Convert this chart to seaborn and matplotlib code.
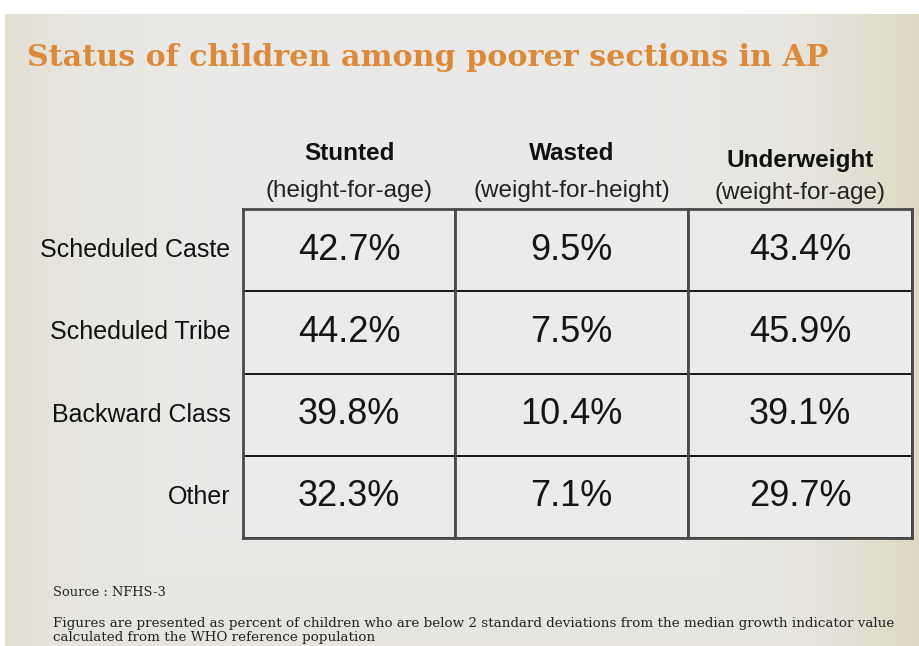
import numpy as np
import pandas as pd
import matplotlib
matplotlib.use('Agg')
import matplotlib.pyplot as plt
import seaborn as sns
from matplotlib.colors import ListedColormap

# data
groups = ['Scheduled Caste', 'Scheduled Tribe', 'Backward Class', 'Other']
measures = ['Stunted', 'Wasted', 'Underweight']
subtitles = ['(height-for-age)', '(weight-for-height)', '(weight-for-age)']
stunted = [42.7, 44.2, 39.8, 32.3]
wasted = [9.5, 7.5, 10.4, 7.1]
underweight = [43.4, 45.9, 39.1, 29.7]

df = pd.DataFrame({'Stunted': stunted, 'Wasted': wasted, 'Underweight': underweight},
                  index=groups)

sns.set_theme(style='white')
plt.rcParams['font.family'] = ['Liberation Sans', 'DejaVu Sans']
serif = ['DejaVu Serif', 'Liberation Serif']

W, H = 919, 646
fig = plt.figure(figsize=(W / 100, H / 100), dpi=100)

# slide background: light grey, beige toward the left/right edges, white strip on top
bg = fig.add_axes([0, 0, 1, 1])
yy, xx = np.mgrid[0:H, 0:W]
dx = np.abs(xx - W * 0.47) / (W * 0.53)
dy = np.abs(yy - H * 0.45) / (H * 0.55)
d = np.clip(np.maximum(dx, dy * 0.75), 0, 1) ** 4
c_in = np.array([234, 234, 233]) / 255
c_out = np.array([221, 217, 195]) / 255
img = c_in[None, None, :] * (1 - d[..., None]) + c_out[None, None, :] * d[..., None]
img[:14, :, :] = 1.0
img[:, :5, :] = 1.0
bg.imshow(img, aspect='auto', extent=[0, W, H, 0])
bg.set_xlim(0, W)
bg.set_ylim(H, 0)
bg.axis('off')

# table: one uniform heatmap per column (columns have different widths)
col_edges = [243, 455, 688, 912]
top, bottom = 209, 538
head_y = [153, 153, 160]
sub_y = [191, 191, 193]
for i, m in enumerate(measures):
    x0, x1 = col_edges[i], col_edges[i + 1]
    ax = fig.add_axes([x0 / W, 1 - bottom / H, (x1 - x0) / W, (bottom - top) / H])
    col = df[[m]]
    labels = col.map(lambda v: f'{v:.1f}%')
    sns.heatmap(col, ax=ax, cmap=ListedColormap(['#ebebeb']), cbar=False,
                annot=labels, fmt='', annot_kws={'fontsize': 26, 'color': '#151515'},
                linewidths=1.1, linecolor='#1a1a1a')
    for sp in ax.spines.values():
        sp.set_visible(True)
        sp.set_color('#4a4a4a')
        sp.set_linewidth(2.0)
    ax.set_xticks([])
    ax.set_xlabel('')
    ax.set_ylabel('')
    if i == 0:
        ax.tick_params(axis='y', length=0, pad=9)
        ax.set_yticklabels(groups, rotation=0, fontsize=18, color='#111111')
    else:
        ax.set_yticks([])

    cx = (x0 + x1) / 2 / W
    fig.text(cx, 1 - head_y[i] / H, m, ha='center', va='center',
             fontsize=17.5, fontweight='bold', color='#111111')
    fig.text(cx, 1 - sub_y[i] / H, subtitles[i], ha='center', va='center',
             fontsize=17.5, color='#222222')

fig.text(27 / W, 1 - 66 / H, 'Status of children among poorer sections in AP',
         ha='left', va='baseline', fontsize=21.7, fontweight='bold',
         color='#dc8a3a', family=serif)

fig.text(53 / W, 1 - 592 / H, 'Source : NFHS-3', ha='left', va='center',
         fontsize=9.4, color='#222222', family=serif)
fig.text(53 / W, 1 - 623 / H,
         'Figures are presented as percent of children who are below 2 standard '
         'deviations from the median growth indicator value',
         ha='left', va='center', fontsize=9.7, color='#222222', family=serif)
fig.text(53 / W, 1 - 637 / H, 'calculated from the WHO reference population',
         ha='left', va='center', fontsize=9.7, color='#222222', family=serif)

fig.savefig('out.png', dpi=100)
